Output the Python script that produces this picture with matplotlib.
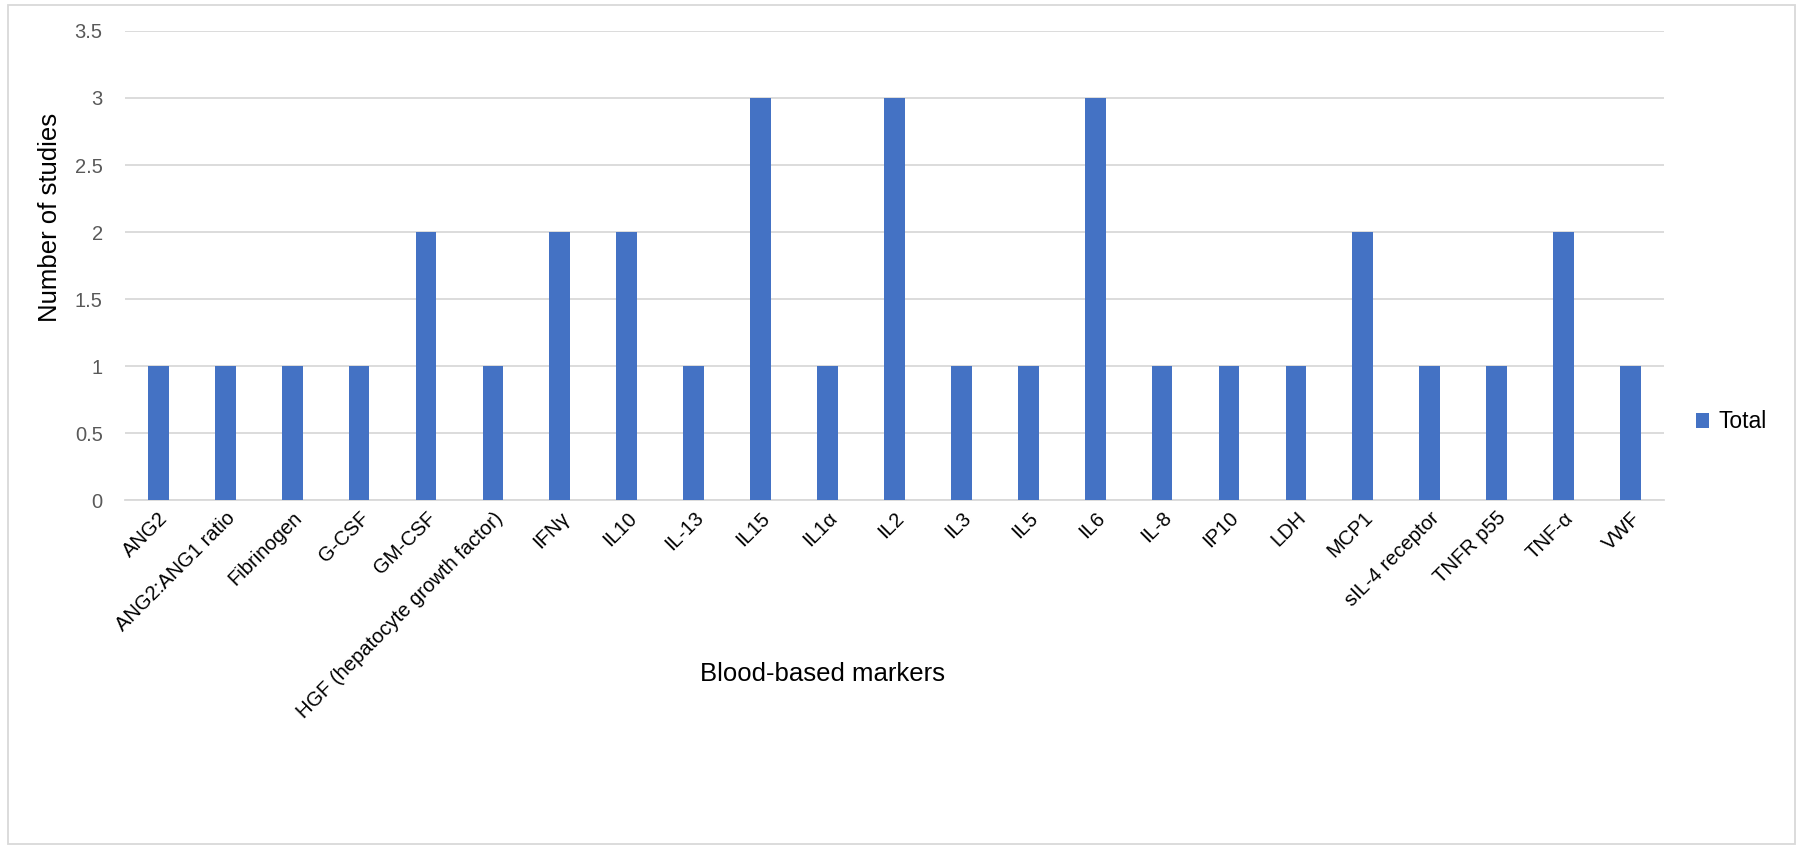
import matplotlib
matplotlib.use("Agg")
import matplotlib.pyplot as plt
from matplotlib.patches import Rectangle
from matplotlib.transforms import ScaledTranslation

# marker names and number of studies
markers = ["ANG2", "ANG2:ANG1 ratio", "Fibrinogen", "G-CSF", "GM-CSF",
           "HGF (hepatocyte growth factor)", "IFN\u03b3", "IL10", "IL-13", "IL15",
           "IL1\u03b1", "IL2", "IL3", "IL5", "IL6", "IL-8", "IP10", "LDH", "MCP1",
           "sIL-4 receptor", "TNFR p55", "TNF-\u03b1", "VWF"]
total = [1, 1, 1, 1, 2, 1, 2, 2, 1, 3, 1, 3, 1, 1, 3, 1, 1, 1, 2, 1, 1, 2, 1]
yticks = [0, 0.5, 1, 1.5, 2, 2.5, 3, 3.5]

plt.rcParams['font.family'] = ['Liberation Sans', 'DejaVu Sans']

fig = plt.figure(figsize=(18, 8.49), dpi=100)
ax = fig.add_axes([0.0694, 0.411, 0.855, 0.5525])

x = list(range(len(markers)))
ax.bar(x, total, width=0.31, color='#4472C4', label='Total', zorder=3)

ax.set_xlim(-0.5, len(markers) - 0.5)
ax.set_ylim(0, 3.5)
ax.set_yticks(yticks)
ax.set_yticklabels([f"{v:g}" for v in yticks], fontsize=14.5, color='#595959')
ax.set_xticks(x)
ax.set_xticklabels(markers, rotation=45, ha='right', rotation_mode='anchor',
                   fontsize=14.5)
# nudge rotated labels a little to the right, like the original
shift = ScaledTranslation(8 / 72, 0, fig.dpi_scale_trans)
for lab in ax.get_xticklabels():
    lab.set_transform(lab.get_transform() + shift)
ax.tick_params(axis='both', length=0)
ax.tick_params(axis='y', pad=16)
ax.tick_params(axis='x', pad=6)
ax.grid(axis='y', color='#d9d9d9', linewidth=1.3, zorder=0)
for s in ['top', 'right', 'left']:
    ax.spines[s].set_visible(False)
ax.spines['bottom'].set_color('#d9d9d9')
ax.spines['bottom'].set_linewidth(1.3)

fig.text(0.028, 0.744, "Number of studies", rotation=90, ha='center', va='center', fontsize=18.5)
fig.text(0.457, 0.206, "Blood-based markers", ha='center', va='center', fontsize=18.5)

fig.legend(loc='center left', bbox_to_anchor=(0.942, 0.503), frameon=False,
           fontsize=16.5, handlelength=0.6, handleheight=0.6, handletextpad=0.4,
           borderpad=0, borderaxespad=0)

fig.patches.append(Rectangle((0.0045, 0.006), 0.9925, 0.988, transform=fig.transFigure,
                             fill=False, edgecolor='#d9d9d9', linewidth=1.3))

fig.savefig("out.png", dpi=100)
